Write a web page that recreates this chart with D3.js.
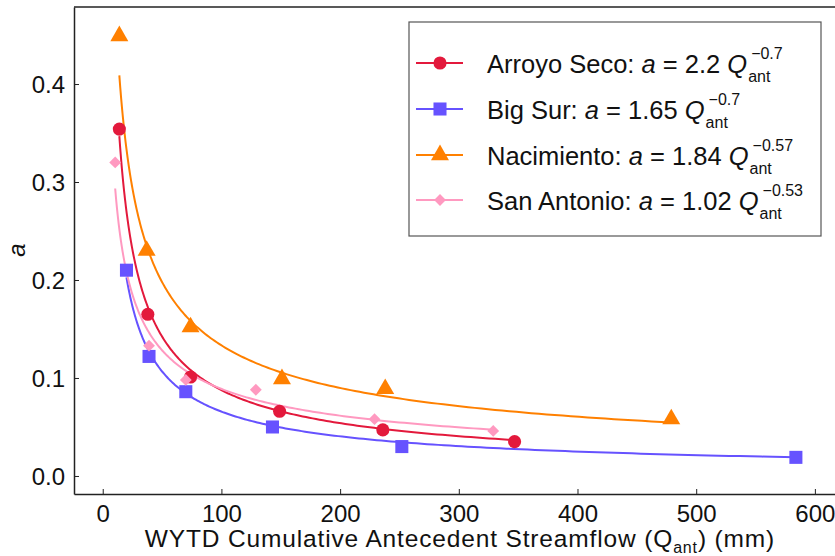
<!DOCTYPE html>
<html>
<head>
<meta charset="utf-8">
<script src="https://cdn.jsdelivr.net/npm/d3@7"></script>
<style>
  html, body { margin: 0; padding: 0; background: #fff; }
  svg { display: block; font-family: "Liberation Sans", Arial, sans-serif; }
</style>
</head>
<body>
<svg id="chart" width="835" height="556"></svg>
<script>
// ---- data ----
const categories = ["Arroyo Seco", "Big Sur", "Nacimiento", "San Antonio"];
const arroyoQ = [14, 38, 74, 149, 236, 347];
const arroyoA = [0.354, 0.165, 0.101, 0.066, 0.047, 0.035];
const bigSurQ = [20, 39, 70, 143, 252, 584];
const bigSurA = [0.210, 0.122, 0.086, 0.050, 0.030, 0.019];
const nacQ = [14, 37, 74, 151, 238, 479];
const nacA = [0.449, 0.230, 0.152, 0.099, 0.089, 0.058];
const sanQ = [10.5, 39, 70, 129, 229, 329];
const sanA = [0.320, 0.133, 0.098, 0.088, 0.058, 0.046];
const fitCoef = [2.2, 1.65, 1.84, 1.02];
const fitExp = [-0.7, -0.7, -0.57, -0.53];
const coefLabels = ["2.2", "1.65", "1.84", "1.02"];
const expLabels = ["\u22120.7", "\u22120.7", "\u22120.57", "\u22120.53"];
const xTicks = [0, 100, 200, 300, 400, 500, 600];
const yTicks = [0.0, 0.1, 0.2, 0.3, 0.4];

const colors = ["#e3193c", "#6652ff", "#ff8000", "#ff99c0"];
const symbols = [d3.symbolCircle, d3.symbolSquare, d3.symbolTriangle, d3.symbolSquare];
const symSizes = [135, 170, 140, 70];
const symRot = [0, 0, 0, 45];

const seriesQ = [arroyoQ, bigSurQ, nacQ, sanQ];
const seriesA = [arroyoA, bigSurA, nacA, sanA];

const svg = d3.select("#chart");
const L = 74, R = 841, T = 7, B = 494;
const x = d3.scaleLinear().domain([-24.2, 622]).range([L, R]);
const y = d3.scaleLinear().domain([-0.0184, 0.4786]).range([B, T]);

// frame: top line
svg.append("line").attr("x1", L).attr("x2", R).attr("y1", T).attr("y2", T)
  .attr("stroke", "#222").attr("stroke-width", 1.5);

// axes
const xAxis = svg.append("g").attr("transform", `translate(0,${B})`)
  .call(d3.axisBottom(x).tickValues(xTicks).tickSizeInner(-5).tickSizeOuter(0).tickPadding(11).tickFormat(d3.format("d")));
const yAxis = svg.append("g").attr("transform", `translate(${L},0)`)
  .call(d3.axisLeft(y).tickValues(yTicks).tickSizeInner(-5).tickSizeOuter(0).tickPadding(9).tickFormat(d3.format(".1f")));
[xAxis, yAxis].forEach(g => {
  g.select(".domain").attr("stroke", "#222").attr("stroke-width", 1.5);
  g.selectAll(".tick line").attr("stroke", "#222").attr("stroke-width", 1);
  g.selectAll(".tick text").attr("font-size", 24).attr("fill", "#111")
    .attr("font-family", "'Liberation Sans', Arial, sans-serif");
});
yAxis.selectAll(".tick text").attr("dy", "0.36em");

// axis labels
const xl = svg.append("text").attr("x", 460).attr("y", 547).attr("text-anchor", "middle")
  .attr("font-size", 24.5).attr("letter-spacing", "0.85px").attr("fill", "#111");
xl.append("tspan").text("WYTD Cumulative Antecedent Streamflow (Q");
xl.append("tspan").attr("font-size", 16).attr("dy", 6).text("ant");
xl.append("tspan").attr("dy", -6).text(") (mm)");

svg.append("text").attr("transform", "translate(25,250) rotate(-90)")
  .attr("text-anchor", "middle").attr("font-size", 24).attr("font-style", "italic")
  .attr("fill", "#111").text("a");

// fit curves
const line = d3.line().x(d => x(d[0])).y(d => y(d[1]));
seriesQ.forEach((qs, i) => {
  const q0 = d3.min(qs), q1 = d3.max(qs);
  const pts = d3.range(0, 201).map(k => {
    const q = q0 * Math.pow(q1 / q0, k / 200);
    return [q, fitCoef[i] * Math.pow(q, fitExp[i])];
  });
  svg.append("path").datum(pts).attr("d", line)
    .attr("fill", "none").attr("stroke", colors[i]).attr("stroke-width", 2);
});

// markers
seriesQ.forEach((qs, i) => {
  const sym = d3.symbol().type(symbols[i]).size(symSizes[i]);
  svg.append("g").selectAll("path").data(qs.map((q, j) => [q, seriesA[i][j]]))
    .join("path")
    .attr("d", sym)
    .attr("transform", d => `translate(${x(d[0])},${y(d[1])}) rotate(${symRot[i]})`)
    .attr("fill", colors[i]);
});

// legend
const lg = svg.append("g");
lg.append("rect").attr("x", 409).attr("y", 22).attr("width", 412).attr("height", 214)
  .attr("fill", "#fff").attr("stroke", "#555").attr("stroke-width", 1.2);
const rowY = [63, 109, 155, 200];
categories.forEach((c, i) => {
  const cy = rowY[i];
  lg.append("line").attr("x1", 416).attr("x2", 463).attr("y1", cy).attr("y2", cy)
    .attr("stroke", colors[i]).attr("stroke-width", 2);
  lg.append("path").attr("d", d3.symbol().type(symbols[i]).size(symSizes[i]))
    .attr("transform", `translate(440,${cy}) rotate(${symRot[i]})`).attr("fill", colors[i]);
  const t = lg.append("text").attr("x", 487).attr("y", cy + 10).attr("font-size", 25.5).attr("fill", "#111");
  t.append("tspan").text(c + ": ");
  t.append("tspan").attr("font-style", "italic").text("a");
  t.append("tspan").text(" = " + coefLabels[i] + " ");
  t.append("tspan").attr("font-style", "italic").text("Q");
  const w = t.node().getComputedTextLength();
  lg.append("text").attr("x", 487 + w + 4).attr("y", cy - 4).attr("font-size", 16)
    .attr("fill", "#111").text(expLabels[i]);
  lg.append("text").attr("x", 487 + w + 1).attr("y", cy + 19).attr("font-size", 16)
    .attr("fill", "#111").text("ant");
});
</script>
</body>
</html>
